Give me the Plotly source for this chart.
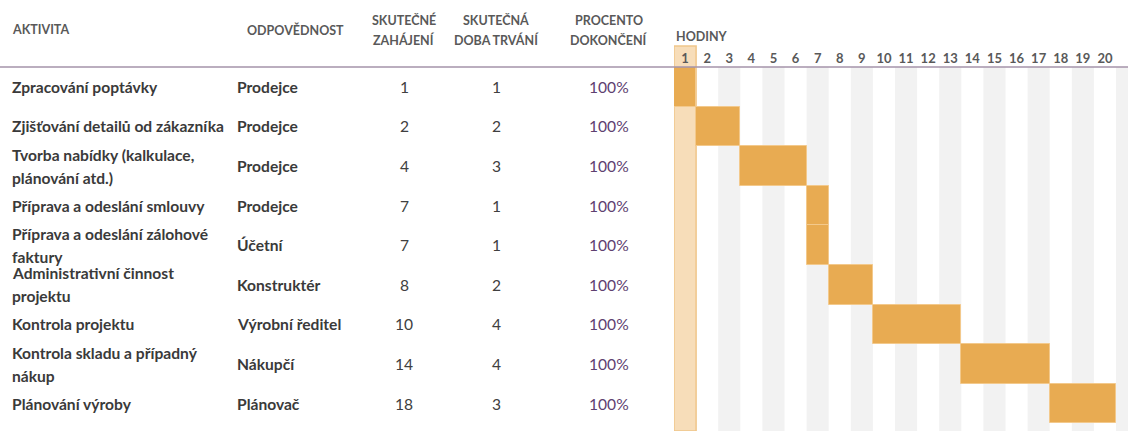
import plotly.graph_objects as go

# data
hours = list(range(1, 22))
activities = [
    'Zpracování poptávky',
    'Zjišťování detailů od zákazníka',
    'Tvorba nabídky (kalkulace,<br>plánování atd.)',
    'Příprava a odeslání smlouvy',
    'Příprava a odeslání zálohové<br>faktury',
    'Administrativní činnost<br>projektu',
    'Kontrola projektu',
    'Kontrola skladu a případný<br>nákup',
    'Plánování výroby',
]
owners = ['Prodejce', 'Prodejce', 'Prodejce', 'Prodejce', 'Účetní',
          'Konstruktér', 'Výrobní ředitel', 'Nákupčí', 'Plánovač']
starts = [1, 2, 4, 7, 7, 8, 10, 14, 18]
durations = [1, 2, 3, 1, 1, 2, 4, 4, 3]
percents = [100, 100, 100, 100, 100, 100, 100, 100, 100]

W, H = 1128, 431
HEAD_Y = 67          # header line, px from top
ROW_H = 39.6
COL_W = 22.1
GANTT_X = 674
FONT = 'Lato'
HEAD_COLOR = '#595959'
TEXT_COLOR = '#3a3a3a'
BAR_COLOR = '#E8AB52'

def py(px):
    return 1 - px / H

rows = [i + 0.5 for i in range(len(activities))]
y_max = (H - HEAD_Y) / ROW_H
x_max = 1 + (W - GANTT_X) / COL_W

fig = go.Figure()

fig.add_trace(go.Bar(
    y=rows, x=durations, base=starts, orientation='h', width=1,
    marker=dict(color=BAR_COLOR, line=dict(color='#F3C98C', width=1)),
    hoverinfo='skip', showlegend=False
))

shapes = []
# grey stripes on odd hours
for h in hours:
    if h % 2 == 1 and h != 1:
        shapes.append(dict(type='rect', xref='x', yref='y', x0=h, x1=h + 1, y0=0, y1=y_max,
                           fillcolor='#F2F2F2', line=dict(width=0), layer='below'))
# row separators
for r in range(1, int(y_max) + 1):
    shapes.append(dict(type='line', xref='paper', yref='y', x0=GANTT_X / W, x1=1, y0=r, y1=r,
                       line=dict(color='white', width=2), layer='below'))
# highlighted first hour
shapes.append(dict(type='rect', xref='x', yref='paper', x0=hours[0], x1=hours[0] + 1,
                   y0=0, y1=py(46), fillcolor='#F7DDB9',
                   line=dict(color='#F0C68A', width=1.5), layer='below'))
# header line
shapes.append(dict(type='line', xref='paper', yref='paper', x0=0, x1=1, y0=py(HEAD_Y), y1=py(HEAD_Y),
                   line=dict(color='#A593AA', width=1.5), layer='above'))

ann = []
def head(text, x, y, anchor='center'):
    ann.append(dict(text=text, xref='paper', yref='paper', x=x / W, y=py(y), xanchor=anchor,
                    yanchor='middle', showarrow=False,
                    font=dict(family=FONT, size=12.5, color=HEAD_COLOR, weight='bold')))

head('AKTIVITA', 10, 30, 'left')
head('ODPOVĚDNOST', 295, 30)
head('SKUTEČNÉ', 404, 20)
head('ZAHÁJENÍ', 404, 40)
head('SKUTEČNÁ', 496, 20)
head('DOBA TRVÁNÍ', 496, 40)
head('PROCENTO', 609, 20)
head('DOKONČENÍ', 609, 40)
head('HODINY', 674, 36, 'left')

def cell(text, x, y, anchor, color=TEXT_COLOR, bold=True, shift=0):
    ann.append(dict(text=text, xref='paper', yref='y', x=x / W, y=y, xanchor=anchor,
                    yanchor='middle', yshift=shift, showarrow=False,
                    font=dict(family=FONT, size=15.6, color=color,
                              weight='bold' if bold else 'normal')))

for i, r in enumerate(rows):
    lines = activities[i].split('<br>')
    n = len(lines)
    for j, line in enumerate(lines):
        cell(line, 10, r, 'left', shift=((n - 1) / 2 - j) * 23)
    cell(owners[i], 235, r, 'left')
    cell(str(starts[i]), 404, r, 'center', color='#404040', bold=False)
    cell(str(durations[i]), 496, r, 'center', color='#404040', bold=False)
    cell(f'{percents[i]}%', 609, r, 'center', color='#5E4070', bold=False)

fig.update_layout(
    width=W, height=H,
    margin=dict(l=0, r=0, t=0, b=0),
    plot_bgcolor='white', paper_bgcolor='white',
    xaxis=dict(domain=[GANTT_X / W, 1], range=[1, x_max], side='top',
               tickvals=[h + 0.5 for h in hours], ticktext=[str(h) for h in hours],
               tickfont=dict(family=FONT, size=13, color=HEAD_COLOR, weight='bold'),
               showgrid=False, zeroline=False, ticks='', showline=False),
    yaxis=dict(domain=[0, py(HEAD_Y)], range=[y_max, 0], visible=False),
    shapes=shapes, annotations=ann, bargap=0,
)

# page body has a default 8px margin; drop it so the figure fills the window
fig.write_html('out.html', config={'displayModeBar': False},
               post_script="document.body.style.margin='0';")
